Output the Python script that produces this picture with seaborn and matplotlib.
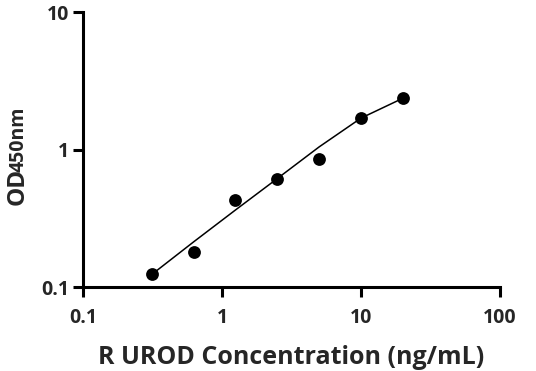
import matplotlib
matplotlib.use("Agg")
import matplotlib.pyplot as plt
import seaborn as sns
import pandas as pd
from matplotlib.ticker import FixedLocator, FixedFormatter, NullLocator

# Data
conc = [0.3125, 0.625, 1.25, 2.5, 5, 10, 20]
od = [0.124, 0.180, 0.432, 0.617, 0.853, 1.70, 2.37]
# fitted curve
curve_x = [0.3125, 0.625, 1.25, 2.5, 5, 10, 20]
curve_y = [0.124, 0.214, 0.365, 0.618, 1.05, 1.70, 2.37]

x_ticks = [0.1, 1, 10, 100]
x_tick_labels = ["0.1", "1", "10", "100"]
y_ticks = [0.1, 1, 10]
y_tick_labels = ["0.1", "1", "10"]

sns.set_style("ticks")
plt.rcParams['font.family'] = ['Open Sans', 'DejaVu Sans']
plt.rcParams['font.weight'] = 'bold'

W, H = 536, 371
fig = plt.figure(figsize=(W / 100, H / 100), dpi=100)
ax = fig.add_axes([83 / W, 1 - 287.3 / H, (500 - 83) / W, (287.3 - 12.3) / H])

pts = pd.DataFrame({"conc": conc, "od": od})
crv = pd.DataFrame({"x": curve_x, "y": curve_y})

sns.lineplot(data=crv, x="x", y="y", ax=ax, color="black", linewidth=1.1, sort=True)
sns.scatterplot(data=pts, x="conc", y="od", ax=ax, color="black", s=85, edgecolor="black",
                linewidth=0, zorder=3)

ax.set_xscale("log")
ax.set_yscale("log")
ax.set_xlim(0.1, 100)
ax.set_ylim(0.1, 10)
ax.xaxis.set_major_locator(FixedLocator(x_ticks))
ax.xaxis.set_major_formatter(FixedFormatter(x_tick_labels))
ax.yaxis.set_major_locator(FixedLocator(y_ticks))
ax.yaxis.set_major_formatter(FixedFormatter(y_tick_labels))
ax.xaxis.set_minor_locator(NullLocator())
ax.yaxis.set_minor_locator(NullLocator())

for side in ["top", "right"]:
    ax.spines[side].set_visible(False)
for side in ["left", "bottom"]:
    ax.spines[side].set_linewidth(2.2)
    ax.spines[side].set_color("black")
ax.tick_params(axis="both", which="major", length=7, width=2.2, color="black",
               labelsize=14, direction="out")
ax.tick_params(axis="x", pad=8)
ax.tick_params(axis="y", pad=3)
for lab in ax.get_xticklabels() + ax.get_yticklabels():
    lab.set_fontweight("bold")

ax.set_xlabel("R UROD Concentration (ng/mL)", fontsize=18, fontweight="bold", labelpad=12)
ax.set_ylabel("")

t_od = fig.text(24 / W, 1 - 205 / H, "OD", fontsize=17.5, fontweight="bold", rotation=90,
                rotation_mode="anchor", ha="left", va="baseline")
renderer = fig.canvas.get_renderer()
bb = t_od.get_window_extent(renderer=renderer)
fig.text(24 / W, (bb.y1 - 4) / H, "450nm", fontsize=14, fontweight="bold", rotation=90,
         rotation_mode="anchor", ha="left", va="baseline")

fig.savefig("out.png", dpi=100)
